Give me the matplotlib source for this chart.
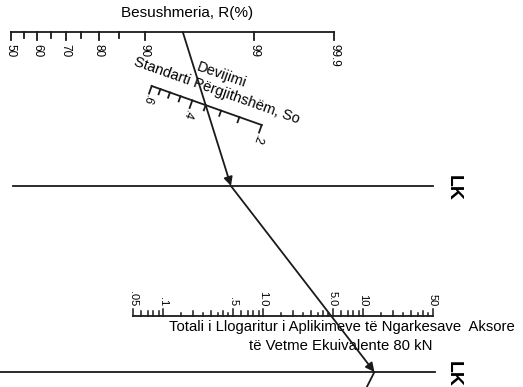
import numpy as np
import matplotlib.pyplot as plt
from statistics import NormalDist

# scale values
r_major = [50, 60, 70, 80, 90, 99, 99.9]
r_labels = ['50', '60', '70', '80', '90', '99', '99.9']
r_minor = [55, 65, 75, 85]

so_ticks = [0.6, 0.55, 0.5, 0.45, 0.4, 0.35, 0.3, 0.25, 0.2]
so_major = [0.6, 0.4, 0.2]
so_labels = ['.6', '.4', '.2']

w_major = [0.05, 0.1, 0.5, 1.0, 5.0, 10, 50]
w_labels = ['.05', '.1', '.5', '1.0', '5.0', '10', '50']
w_minor = [0.06, 0.07, 0.08, 0.09, 0.2, 0.3, 0.4, 0.6, 0.7, 0.8, 0.9,
           2, 3, 4, 6, 7, 8, 9, 20, 30, 40]
w_half = [0.15, 0.25, 0.35, 0.45, 1.5, 2.5, 3.5, 4.5, 15, 25, 35, 45]

# solution path through the chart
r_sel = 95
so_sel = 0.35
w_sel = 4.8

# layout (pixel units, y down)
R_X0, R_X1, R_Y = 10.7, 334.0, 32.0
SO_P0, SO_P1 = np.array([151.7, 86.0]), np.array([261.7, 125.0])
TL1_Y, TL2_Y = 186.0, 372.0
W_X0, W_DEC, W_Y = 133.0, 100.0, 316.0
NEXT_PT = np.array([345.0, 430.0])

FONT = 'Liberation Sans'
INK = '#1a1a1a'
LW = 1.3

z = NormalDist()
z_top = z.inv_cdf(0.999)


def r_pos(r):
    return np.array([R_X0 + (R_X1 - R_X0) * z.inv_cdf(r / 100) / z_top, R_Y])


def so_pos(s):
    f = np.log(0.6 / s) / np.log(0.6 / 0.2)
    return SO_P0 + f * (SO_P1 - SO_P0)


def w_pos(w):
    return np.array([W_X0 + W_DEC * np.log10(w / 0.05), W_Y])


def at_y(p, q, y):
    t = (y - p[1]) / (q[1] - p[1])
    return p + t * (q - p)


fig = plt.figure(figsize=(5.23, 3.87), dpi=100)
ax = fig.add_axes([0, 0, 1, 1])
ax.set_xlim(0, 523)
ax.set_ylim(387, 0)
ax.axis('off')

# reliability scale
ax.plot([r_pos(50)[0], r_pos(99.9)[0]], [R_Y, R_Y], color=INK, lw=LW)
for r, lab in zip(r_major, r_labels):
    x = r_pos(r)[0]
    ax.plot([x, x], [R_Y, R_Y + 8], color=INK, lw=LW)
    ax.text(x, R_Y + 12, lab, rotation=270, ha='center', va='top',
            fontsize=8.5, family=FONT)
for r in r_minor:
    x = r_pos(r)[0]
    ax.plot([x, x], [R_Y, R_Y + 6], color=INK, lw=LW)
ax.text(187, 13, 'Besushmeria, R(%)', ha='center', va='center',
        fontsize=11, family=FONT)

# standard deviation scale
d = (SO_P1 - SO_P0) / np.linalg.norm(SO_P1 - SO_P0)
n = np.array([-d[1], d[0]])
ang = -np.degrees(np.arctan2(d[1], d[0]))
ax.plot([SO_P0[0], SO_P1[0]], [SO_P0[1], SO_P1[1]], color=INK, lw=LW)
for s in so_ticks:
    p = so_pos(s)
    ln = 8 if s in so_major else 5.5
    q = p + n * ln
    ax.plot([p[0], q[0]], [p[1], q[1]], color=INK, lw=LW)
for s, lab in zip(so_major, so_labels):
    p = so_pos(s) + n * 15
    ax.text(p[0], p[1], lab, rotation=ang - 90, ha='center', va='center',
            rotation_mode='anchor', fontsize=8.5, family=FONT)
ax.text(222, 75, 'Devijimi', rotation=ang, ha='center', va='center',
        rotation_mode='anchor', fontsize=10.5, family=FONT)
ax.text(217, 91, 'Standarti Përgjithshëm, So', rotation=ang, ha='center',
        va='center', rotation_mode='anchor', fontsize=10.5, family=FONT)

# turning lines
ax.plot([13, 433], [TL1_Y, TL1_Y], color=INK, lw=LW)
ax.plot([0, 435], [TL2_Y, TL2_Y], color=INK, lw=LW)
for y in (TL1_Y, TL2_Y):
    ax.text(453, y + 2, 'LK', rotation=270, ha='center', va='center',
            fontsize=14, fontweight='bold', family=FONT)

# ESAL scale
ax.plot([w_pos(0.05)[0], w_pos(50)[0]], [W_Y, W_Y], color=INK, lw=LW)
for w, lab in zip(w_major, w_labels):
    x = w_pos(w)[0]
    ax.plot([x, x], [W_Y, W_Y - 7], color=INK, lw=1.1)
    ax.text(x, W_Y - 10, lab, rotation=270, ha='center', va='bottom',
            fontsize=8, family=FONT)
for w in w_minor:
    x = w_pos(w)[0]
    ax.plot([x, x], [W_Y, W_Y - 5.5], color=INK, lw=1.1)
for w in w_half:
    x = w_pos(w)[0]
    ax.plot([x, x], [W_Y, W_Y - 3], color=INK, lw=1.1)
ax.text(342, 327, 'Totali i Llogaritur i Aplikimeve të Ngarkesave  Aksore',
        ha='center', va='center', fontsize=10.7, family=FONT)
ax.text(341, 346, 'të Vetme Ekuivalente 80 kN', ha='center', va='center',
        fontsize=10.7, family=FONT)

# solution path
p_r = r_pos(r_sel)
p_tl1 = at_y(p_r, so_pos(so_sel), TL1_Y)
p_tl2 = at_y(p_tl1, w_pos(w_sel), TL2_Y)
arrow = dict(arrowstyle='-|>', color=INK, lw=LW, mutation_scale=13,
             shrinkA=0, shrinkB=0)
ax.annotate('', xy=p_tl1, xytext=p_r, arrowprops=arrow)
ax.annotate('', xy=p_tl2, xytext=p_tl1, arrowprops=arrow)
ax.plot([p_tl2[0], NEXT_PT[0]], [p_tl2[1], NEXT_PT[1]], color=INK, lw=LW)

fig.savefig('out.png', dpi=100)
